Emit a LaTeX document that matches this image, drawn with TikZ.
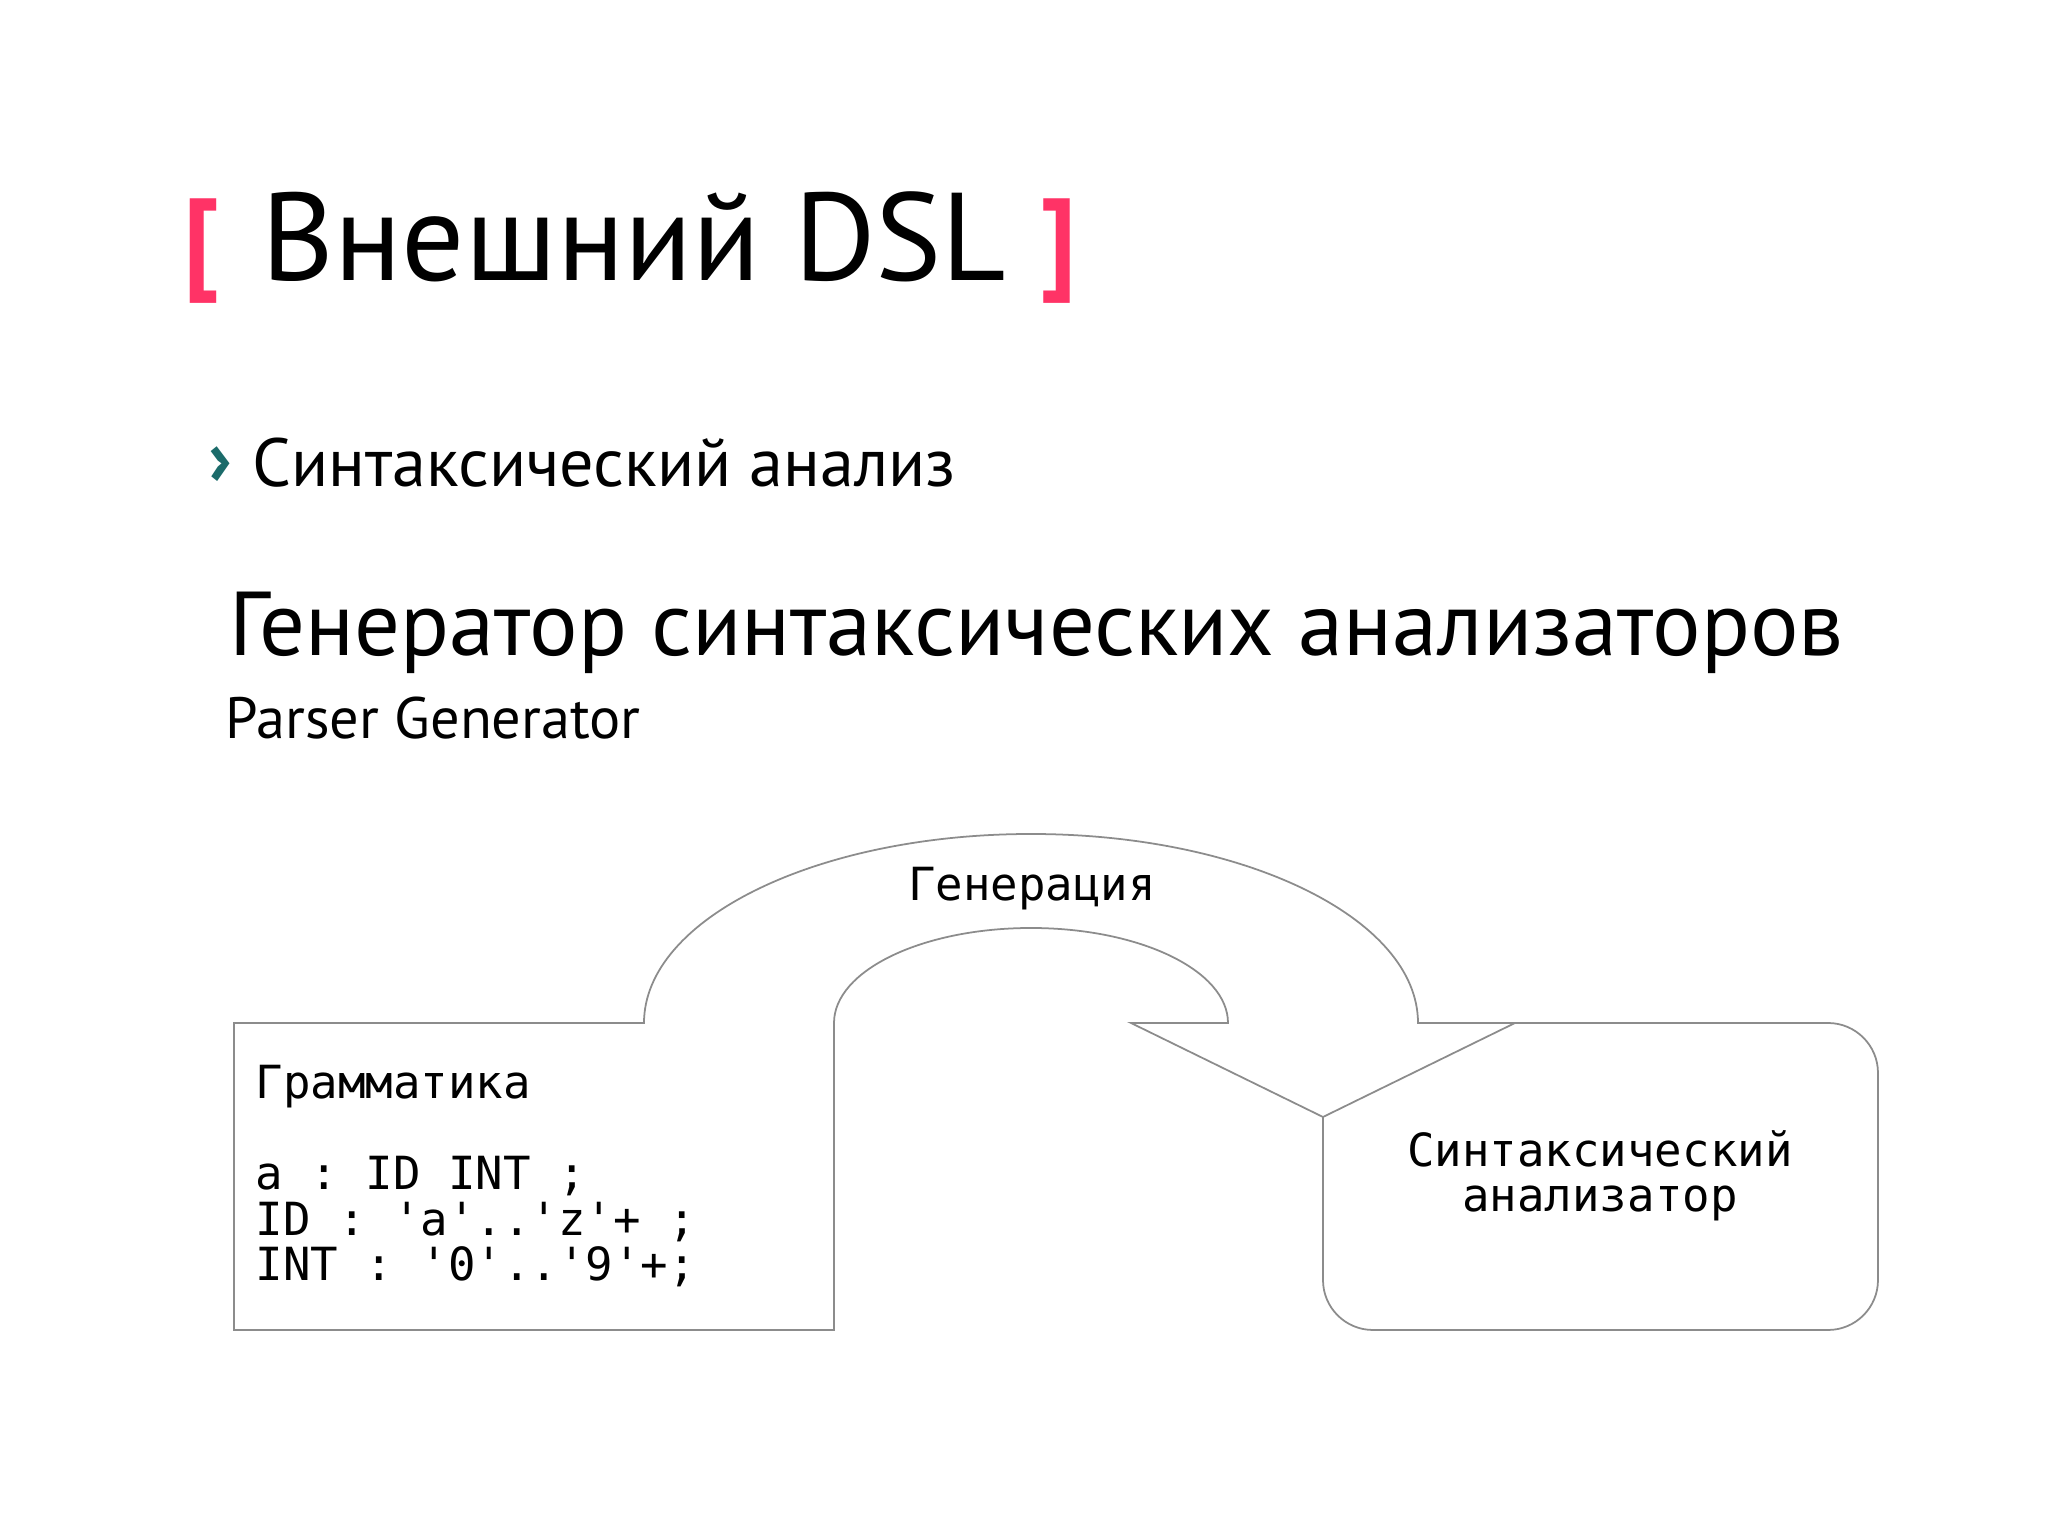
\documentclass[tikz,border=0pt]{standalone}
\usepackage{fontspec}
\setmainfont{PT Sans}
\setmonofont{DejaVu Sans Mono}
\usepackage{tikz}
\usetikzlibrary{positioning}

\definecolor{bracketpink}{HTML}{FF3366}
\definecolor{bulletteal}{HTML}{1B6B6A}
\definecolor{shapegray}{HTML}{8C8C8C}

\tikzset{
    outline/.style={draw=shapegray, line width=0.5pt},
    slidetext/.style={anchor=base west, inner sep=0pt},
    bracket/.style={inner sep=0pt, text=bracketpink, font=\bfseries\fontsize{32}{32}\selectfont},
    monotext/.style={inner sep=0pt, font=\ttfamily\fontsize{13}{13}\selectfont}
}

\begin{document}
\begin{tikzpicture}
    \useasboundingbox[fill=white] (0,0) rectangle (20.48,15.35);
    % Title
    \node[bracket] (lbr) at (2.02,12.84) {[};
    \node[bracket] (rbr) at (10.59,12.84) {]};
    \node[slidetext, font=\fontsize{35.5}{40}\selectfont] (title) at (2.61,12.54) {Внешний DSL};
    % Bullet and headings
    \node[inner sep=0pt, text=bulletteal, font=\bfseries\fontsize{22}{22}\selectfont] (bul) at (2.20,10.69) {›};
    \node[slidetext, font=\fontsize{19.4}{20}\selectfont] (sub) at (2.52,10.48) {Синтаксический анализ};
    \node[slidetext, font=\fontsize{25.8}{28}\selectfont] (head) at (2.29,8.79) {Генератор синтаксических анализаторов};
    \node[slidetext, font=\fontsize{16.6}{20}\selectfont] (eng) at (2.25,7.96) {Parser Generator};
    % Grammar box with the generation arrow
    \draw[outline] (2.34,5.12) -- (6.44,5.12)
        arc[start angle=180, end angle=0, x radius=3.87, y radius=1.89]
        -- (15.15,5.12) -- (13.23,4.18) -- (11.31,5.12) -- (12.28,5.12)
        arc[start angle=0, end angle=180, x radius=1.97, y radius=0.95]
        -- (8.34,2.05) -- (2.34,2.05) -- cycle;
    % Parser box
    \draw[outline, rounded corners=0.5cm] (15.15,5.12) -- (18.78,5.12)
        -- (18.78,2.05) -- (13.23,2.05) -- (13.23,4.18);
    % Labels (base = last line)
    \node[monotext, anchor=base] (gen) at (10.32,6.34) {Генерация};
    \node[monotext, anchor=base west, align=left] (gram) at (2.55,2.54)
        {Грамматика\\ \mbox{}\\ a : ID INT ;\\ ID : 'a'..'z'+ ;\\ INT : '0'..'9'+;};
    \node[monotext, anchor=base, align=center] (parser) at (16.0,3.23)
        {Синтаксический\\анализатор};
\end{tikzpicture}
\end{document}
